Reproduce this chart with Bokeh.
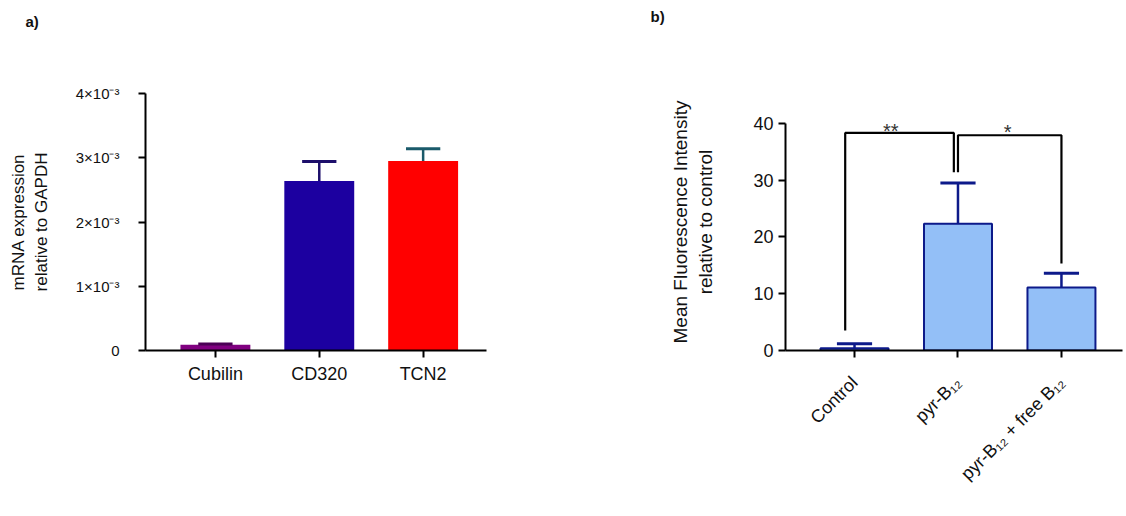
import math
from bokeh.plotting import figure
from bokeh.layouts import row
from bokeh.models import FixedTicker, Title, ColumnDataSource, Range1d
from bokeh.core.properties import value
from bokeh.embed import file_html
from bokeh.resources import INLINE

FONT = "Liberation Sans"

# ---------------- Panel a data ----------------
a_categories = ["Cubilin", "CD320", "TCN2"]
a_means = [0.09e-3, 2.64e-3, 2.95e-3]
a_errors = [0.01e-3, 0.30e-3, 0.19e-3]
a_fill = ["#800080", "#1c00a0", "#ff0000"]
a_err_colors = ["#4b0055", "#1d0f6b", "#1a5a6a"]
a_yticks = [0, 1e-3, 2e-3, 3e-3, 4e-3]
a_ytick_labels = ["0", "1×10⁻³", "2×10⁻³", "3×10⁻³", "4×10⁻³"]

# ---------------- Panel b data ----------------
b_categories = ["Control", "pyr-B₁₂", "pyr-B₁₂ + free B₁₂"]
b_means = [0.4, 22.3, 11.1]
b_errors = [0.8, 7.2, 2.5]
b_yticks = [0, 10, 20, 30, 40]
sig_labels = ["**", "*"]
sig_height = [38.3, 37.9]
sig_x0 = [-0.09, 1.0]
sig_x1 = [0.96, 2.0]
sig_low0 = [3.5, 31.4]
sig_low1 = [31.4, 15.3]
sig_text_x = [0.35, 1.48]
sig_text_y = [38.7, 38.4]


def style_axes(p):
    for ax in (p.xaxis, p.yaxis):
        ax.axis_line_width = 2
        ax.axis_line_color = "black"
        ax.major_tick_line_width = 2
        ax.major_tick_line_color = "black"
        ax.major_tick_out = 7
        ax.major_tick_in = 0
        ax.minor_tick_line_color = None
        ax.major_label_text_font = FONT
        ax.axis_label_text_font = FONT
        ax.axis_label_text_font_style = "normal"
        ax.major_label_text_color = "#111111"
        ax.axis_label_text_color = "#111111"
    p.xgrid.visible = False
    p.ygrid.visible = False
    p.outline_line_color = None


def panel_title(p, txt, offset, spacer_px):
    # empty spacer next to the frame, then the panel letter further out
    p.add_layout(Title(text=" ", align="left", text_font=FONT,
                       text_font_size=f"{spacer_px}px"), "above")
    p.add_layout(Title(text=txt, align="left", offset=offset,
                       text_font=FONT, text_font_size="15px", text_font_style="bold",
                       text_color="#111111"), "above")


# ================= Panel a =================
xa = list(range(len(a_categories)))
pa = figure(width=560, height=516, output_backend="svg", toolbar_location=None,
            x_range=Range1d(-0.673, 2.61), y_range=Range1d(0, 4e-3),
            min_border_left=145, min_border_right=74, min_border_top=93,
            min_border_bottom=166)
style_axes(pa)
src_a = ColumnDataSource(dict(
    x=xa, top=a_means, fill=a_fill, ec=a_err_colors,
    up=[m + e for m, e in zip(a_means, a_errors)],
    c0=[v - 0.165 for v in xa], c1=[v + 0.165 for v in xa]))
pa.vbar(x="x", top="top", bottom=0, width=0.673, fill_color="fill",
        line_color=None, source=src_a)
pa.segment(x0="x", y0="top", x1="x", y1="up", line_color="ec", line_width=2.5, source=src_a)
pa.segment(x0="c0", y0="up", x1="c1", y1="up", line_color="ec", line_width=3, source=src_a)

pa.xaxis.ticker = FixedTicker(ticks=xa)
pa.xaxis.major_label_overrides = {i: c for i, c in zip(xa, a_categories)}
pa.xaxis.major_label_text_font_size = "18px"
pa.xaxis.major_label_standoff = 6
pa.yaxis.ticker = FixedTicker(ticks=a_yticks)
pa.yaxis.major_label_overrides = {t: l for t, l in zip(a_yticks, a_ytick_labels)}
pa.yaxis.major_label_text_font_size = "15px"
pa.yaxis.major_label_standoff = 19
pa.yaxis.axis_label = "mRNA expression\nrelative to GAPDH"
pa.yaxis.axis_label_text_font_size = "17px"
pa.yaxis.axis_label_standoff = 22
panel_title(pa, "a)", -120, 42)

# ================= Panel b =================
xb = list(range(len(b_categories)))
pb = figure(width=566, height=516, output_backend="svg", toolbar_location=None,
            x_range=Range1d(-0.667, 2.59), y_range=Range1d(0, 45.25),
            min_border_left=225, min_border_right=4, min_border_top=93,
            min_border_bottom=166)
style_axes(pb)
src_b = ColumnDataSource(dict(
    x=xb, top=b_means,
    up=[m + e for m, e in zip(b_means, b_errors)],
    c0=[v - 0.17 for v in xb], c1=[v + 0.17 for v in xb]))
pb.vbar(x="x", top="top", bottom=0, width=0.657, fill_color="#93bff7",
        line_color="#0d1a8a", line_width=2, source=src_b)
pb.segment(x0="x", y0="top", x1="x", y1="up", line_color="#0d1a8a", line_width=2.5, source=src_b)
pb.segment(x0="c0", y0="up", x1="c1", y1="up", line_color="#0d1a8a", line_width=3, source=src_b)

xs = [[a0, a0, a1, a1] for a0, a1 in zip(sig_x0, sig_x1)]
ys = [[l0, h, h, l1] for l0, h, l1 in zip(sig_low0, sig_height, sig_low1)]
pb.multi_line(xs=xs, ys=ys, line_color="black", line_width=2.2)
pb.text(x=sig_text_x, y=sig_text_y, text=sig_labels, text_font=value(FONT),
        text_font_size="20px", text_color="#333333", text_align="center",
        text_baseline="middle")

pb.xaxis.ticker = FixedTicker(ticks=xb)
pb.xaxis.major_label_overrides = {i: c for i, c in zip(xb, b_categories)}
pb.xaxis.major_label_orientation = math.pi / 4
pb.xaxis.major_label_text_font_size = "18px"
pb.xaxis.major_label_standoff = 22
pb.yaxis.ticker = FixedTicker(ticks=b_yticks)
pb.yaxis.bounds = (0, 40)
pb.yaxis.major_label_text_font_size = "18px"
pb.yaxis.major_label_standoff = 5
pb.yaxis.axis_label = "Mean Fluorescence Intensity\nrelative to control"
pb.yaxis.axis_label_text_font_size = "19px"
pb.yaxis.axis_label_standoff = 34
panel_title(pb, "b)", -135, 46)

layout = row(pa, pb)
open("out.html", "w").write(file_html(layout, INLINE))
